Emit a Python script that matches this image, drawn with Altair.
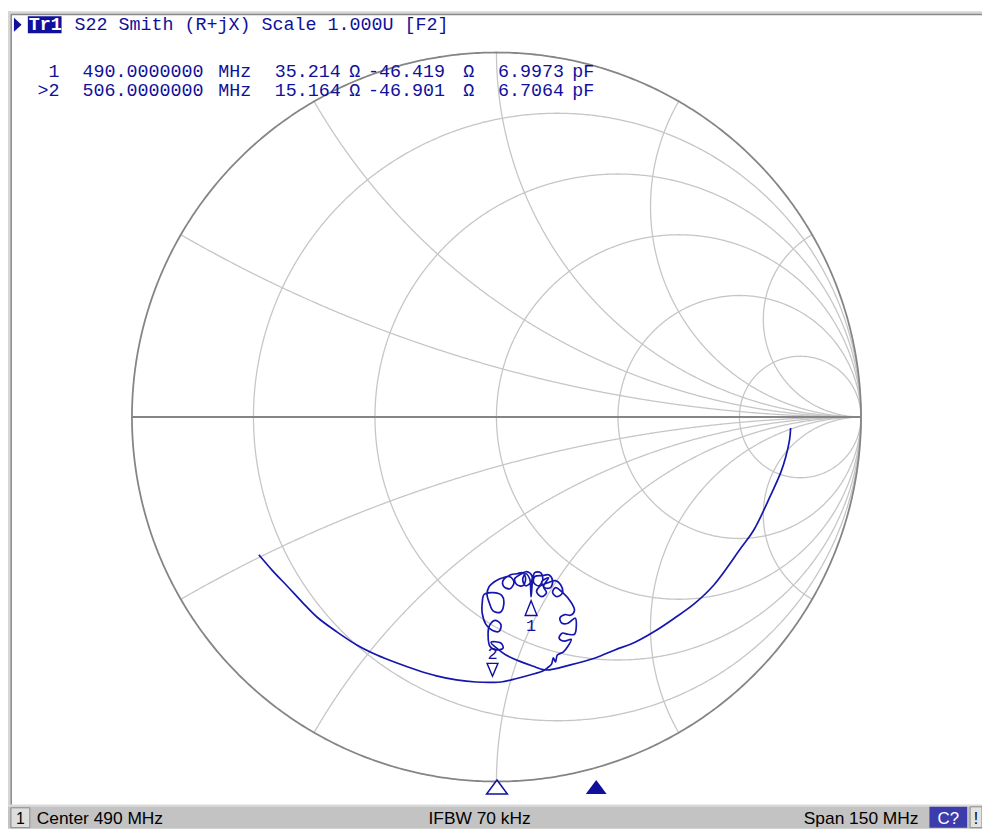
import altair as alt
import numpy as np
import pandas as pd

# ---------------- data ----------------
# S22 trace, reflection coefficient (real, imag), in sweep order 415 -> 565 MHz
trace_re = [0.807, 0.804, 0.793, 0.780, 0.752, 0.706, 0.671, 0.597, 0.543, 0.488, 0.434, 0.380, 0.325, 0.271, 0.203, 0.135,
            0.099, 0.061, 0.026, 0.004, -0.015,
            0.012, 0.018, -0.001, -0.018,
            -0.023, -0.020, -0.004, 0.012, 0.007, -0.012, -0.029, -0.039, -0.039,
            -0.034, -0.010, 0.015, 0.020, 0.010, -0.010, -0.020, -0.026, -0.020, -0.001,
            0.018, 0.037, 0.048, 0.037, 0.020, 0.018, 0.039,
            0.056, 0.072, 0.080, 0.072, 0.056, 0.050, 0.069,
            0.083, 0.097, 0.094, 0.080, 0.072, 0.080,
            0.091, 0.094, 0.095, 0.097, 0.099,
            0.105, 0.121, 0.127, 0.116, 0.102, 0.105,
            0.127, 0.143, 0.154, 0.148, 0.132, 0.124, 0.143,
            0.129, 0.137, 0.124, 0.110, 0.118, 0.143, 0.162,
            0.176, 0.181, 0.167, 0.154, 0.162, 0.184, 0.203, 0.214,
            0.203, 0.188, 0.174, 0.180, 0.196, 0.216, 0.219, 0.214,
            0.196, 0.180, 0.172, 0.186, 0.205, 0.196, 0.183,
            0.167, 0.162, 0.156, 0.151, 0.140, 0.127,
            0.094, 0.053, 0.012, -0.011, -0.056, -0.110, -0.165, -0.219, -0.273, -0.328, -0.382, -0.437,
            -0.491, -0.532, -0.573, -0.614, -0.652]
trace_im = [-0.030, -0.063, -0.112, -0.152, -0.215, -0.310, -0.359, -0.460, -0.512, -0.552, -0.588, -0.618, -0.639, -0.661, -0.680, -0.694,
            -0.683, -0.669, -0.653, -0.637, -0.618,
            -0.620, -0.634, -0.639, -0.629,
            -0.596, -0.574, -0.558, -0.569, -0.588, -0.585, -0.569, -0.539, -0.509,
            -0.487, -0.482, -0.490, -0.514, -0.536, -0.531, -0.509, -0.487, -0.465, -0.449,
            -0.441, -0.438, -0.454, -0.471, -0.465, -0.449, -0.433,
            -0.430, -0.427, -0.444, -0.463, -0.460, -0.444, -0.430,
            -0.424, -0.435, -0.454, -0.463, -0.446, -0.430,
            -0.444, -0.476, -0.493, -0.471, -0.449,
            -0.427, -0.427, -0.446, -0.463, -0.454, -0.438,
            -0.435, -0.433, -0.449, -0.468, -0.468, -0.452, -0.441,
            -0.465, -0.482, -0.493, -0.479, -0.465, -0.454, -0.449,
            -0.460, -0.482, -0.493, -0.482, -0.468, -0.484, -0.506, -0.531,
            -0.544, -0.542, -0.552, -0.566, -0.566, -0.552, -0.574, -0.596,
            -0.596, -0.593, -0.607, -0.615, -0.610, -0.629, -0.645,
            -0.653, -0.672, -0.661, -0.678, -0.688, -0.697,
            -0.707, -0.718, -0.727, -0.728, -0.727, -0.721, -0.710, -0.694, -0.675, -0.653, -0.626, -0.590,
            -0.550, -0.509, -0.465, -0.422, -0.378]

marker_no = [1, 2]
marker_freq = [490.0, 506.0]      # MHz
marker_R = [35.214, 15.164]       # ohm
marker_X = [-46.419, -46.901]     # ohm
marker_C = [6.9973, 6.7064]       # pF
active_marker = 2
z0 = 50.0

r_grid = [0.2, 0.5, 1, 2, 5]
x_grid = [0.268, 0.577, 1, 1.732, 3.732]

center_mhz = 490
span_mhz = 150
ifbw_khz = 70
trace_name = "Tr1"
header = "S22 Smith (R+jX) Scale 1.000U [F2]"

# ---------------- styling ----------------
NAVY = "#10109c"
BLUE = "#1616ae"
GRID = "#c6c6c6"
DARK = "#858585"
MONO = "Liberation Mono"
W, H = 982, 824
xs = alt.Scale(domain=[-1.3401, 1.3320], nice=False, zero=False)
ys = alt.Scale(domain=[-1.1293, 1.1129], nice=False, zero=False)
fs = alt.Scale(domain=[center_mhz - span_mhz / 2, center_mhz + span_mhz / 2], range=[24, 962], nice=False, zero=False)

one = pd.DataFrame({"a": [0]})


def rect(x0, y0, x1, y1, fill, stroke=None):
    kw = dict(color=fill)
    if stroke:
        kw.update(stroke=stroke, strokeWidth=1)
    return alt.Chart(one).mark_rect(**kw).encode(
        x=alt.value(x0 - 8), x2=alt.value(x1 - 8), y=alt.value(y0 - 8), y2=alt.value(y1 - 8))


def txt(s, x, y, size=18.5, color=NAVY, font=MONO, align="left", weight="normal"):
    return alt.Chart(one).mark_text(text=s, font=font, fontSize=size, color=color, align=align,
                                    baseline="alphabetic", fontWeight=weight).encode(
        x=alt.value(x - 8), y=alt.value(y - 8))


# ---------------- Smith grid ----------------
rows = []
t = np.linspace(-1.5697, 1.5697, 901)
for k, r in enumerate(r_grid):
    z = r + 1j * np.tan(t)
    g = (z - 1) / (z + 1)
    rows.append(pd.DataFrame({"gx": g.real, "gy": g.imag, "id": f"r{k}", "i": np.arange(len(t))}))
t2 = np.linspace(0, 1.5697, 600)
for k, xv in enumerate(x_grid):
    for s in (1, -1):
        z = np.tan(t2) + 1j * s * xv
        g = (z - 1) / (z + 1)
        rows.append(pd.DataFrame({"gx": g.real, "gy": g.imag, "id": f"x{k}{s}", "i": np.arange(len(t2))}))
grid_df = pd.concat(rows, ignore_index=True)

a = np.linspace(0, 2 * np.pi, 721)
outer_df = pd.DataFrame({"gx": np.cos(a), "gy": np.sin(a), "id": "o", "i": np.arange(len(a))})
axis_df = pd.DataFrame({"gx": [-1.0, 1.0], "gy": [0.0, 0.0], "id": "h", "i": [0, 1]})

grid = alt.Chart(grid_df).mark_line(color=GRID, strokeWidth=1.3).encode(
    x=alt.X("gx:Q", scale=xs, axis=None), y=alt.Y("gy:Q", scale=ys, axis=None),
    detail="id:N", order="i:Q")
outer = alt.Chart(pd.concat([outer_df, axis_df])).mark_line(color=DARK, strokeWidth=1.8).encode(
    x=alt.X("gx:Q", scale=xs, axis=None), y=alt.Y("gy:Q", scale=ys, axis=None),
    detail="id:N", order="i:Q")

# ---------------- trace ----------------
trace_df = pd.DataFrame({"re": trace_re, "im": trace_im, "i": np.arange(len(trace_re))})
trace = alt.Chart(trace_df).mark_line(color=BLUE, strokeWidth=1.7, interpolate="catmull-rom").encode(
    x=alt.X("re:Q", scale=xs, axis=None), y=alt.Y("im:Q", scale=ys, axis=None), order="i:Q")

# ---------------- markers ----------------
zm = (np.array(marker_R) + 1j * np.array(marker_X)) / z0
gm = (zm - 1) / (zm + 1)
mk = pd.DataFrame({"n": marker_no, "re": gm.real, "im": gm.imag, "f": marker_freq})
m1 = mk[mk.n == 1]
m2 = mk[mk.n == 2]

mk1_sym = alt.Chart(m1).mark_point(shape="M0,0.8L1.2,3.8L-1.2,3.8Z", size=100, filled=False,
                                   color=NAVY, strokeWidth=1.4, opacity=1).encode(
    x=alt.X("re:Q", scale=xs, axis=None), y=alt.Y("im:Q", scale=ys, axis=None))
mk1_lab = alt.Chart(m1).mark_text(text="1", font=MONO, fontSize=17, color=NAVY, baseline="middle", dy=30).encode(
    x=alt.X("re:Q", scale=xs, axis=None), y=alt.Y("im:Q", scale=ys, axis=None))
mk2_sym = alt.Chart(m2).mark_point(shape="M0,-1.2L1.1,-3.8L-1.1,-3.8Z", size=100, filled=False,
                                   color=NAVY, strokeWidth=1.4, opacity=1).encode(
    x=alt.X("re:Q", scale=xs, axis=None), y=alt.Y("im:Q", scale=ys, axis=None))
mk2_lab = alt.Chart(m2).mark_text(text="2", font=MONO, fontSize=17, color=NAVY, baseline="middle", dy=-28).encode(
    x=alt.X("re:Q", scale=xs, axis=None), y=alt.Y("im:Q", scale=ys, axis=None))

# stimulus-axis marker triangles at the bottom
tri = "M0,-1L1.5,1L-1.5,1Z"
stim_inactive = alt.Chart(mk[mk.n != active_marker]).mark_point(
    shape=tri, size=196, filled=True, fill="white", stroke=NAVY, strokeWidth=1.5, opacity=1).encode(
    x=alt.X("f:Q", scale=fs, axis=None), y=alt.value(782))
stim_active = alt.Chart(mk[mk.n == active_marker]).mark_point(
    shape=tri, size=196, filled=True, color=NAVY, opacity=1).encode(
    x=alt.X("f:Q", scale=fs, axis=None), y=alt.value(782))

# ---------------- header and marker readout ----------------
texts = []
texts.append(alt.Chart(one).mark_point(shape="M-1,-2L1.2,0L-1,2Z", size=49, filled=True, color=NAVY, opacity=1)
             .encode(x=alt.value(17.5 - 8), y=alt.value(21.5 - 8)))
texts.append(rect(28, 13, 62, 30, NAVY))
texts.append(txt(trace_name, 29, 27, color="white", weight="bold"))
texts.append(txt(header, 75, 27))

xpos = [83, 220, 277, 352, 371, 467, 502, 577]
for k in range(2):
    base = 74 if k == 0 else 93
    lab = str(marker_no[k]) if marker_no[k] != active_marker else ">" + str(marker_no[k])
    texts.append(txt(lab, 60, base, align="right"))
    toks = [f"{marker_freq[k]:.7f}", "MHz", f"{marker_R[k]:.3f}", "Ω", f"{marker_X[k]:.3f}", "Ω",
            f"{marker_C[k]:.4f}", "pF"]
    for tk, xp in zip(toks, xpos):
        texts.append(txt(tk, xp, base))

# ---------------- window frame and status bar ----------------
frame = [
    rect(8, 8, 990, 11, "#d6d6d6"),
    rect(8, 8, 11, 808, "#d6d6d6"),
    rect(11, 10.5, 990, 12, "#8a8a8a"),
    rect(10.5, 11, 12, 808, "#8a8a8a"),
    rect(8, 808, 990, 832, "#c3c3c3"),
    rect(8, 808, 990, 810, "#dadada"),
    rect(11, 811, 30, 831, "#dedede", stroke="#8a8a8a"),
    rect(937, 810, 975, 831, "#3c3cac"),
    rect(978, 810, 990, 831, "#e2e2e2", stroke="#8a8a8a"),
]
SANS = "Liberation Sans"
status = [
    txt("1", 16, 827, size=16, color="black", font=SANS),
    txt(f"Center {center_mhz} MHz", 37, 827, size=17.5, color="black", font=SANS),
    txt(f"IFBW {ifbw_khz} kHz", 432, 827, size=17.5, color="black", font=SANS),
    txt(f"Span {span_mhz} MHz", 926, 827, size=17.5, color="black", font=SANS, align="right"),
    txt("C?", 956, 827, size=17, color="white", font=SANS, align="center"),
    txt("!", 984, 827, size=16, color="black", font=SANS, align="center"),
]

chart = alt.layer(
    *frame, grid, outer, trace, mk1_sym, mk1_lab, mk2_sym, mk2_lab, stim_inactive, stim_active, *texts, *status
).resolve_scale(x="independent", y="independent").properties(
    width=W, height=H, autosize=alt.AutoSizeParams(type="none"), padding=0, background="white"
).configure_view(strokeWidth=0)

chart.save("out.html", embed_options={"renderer": "svg", "actions": False})
